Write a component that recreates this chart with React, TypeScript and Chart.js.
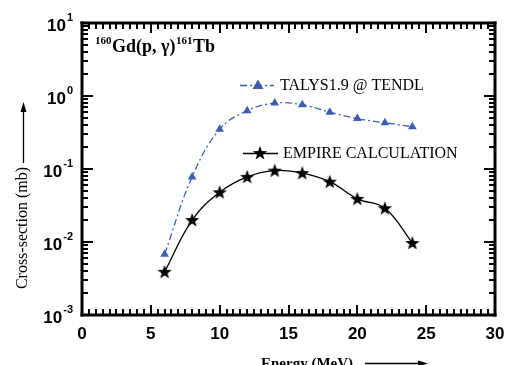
import React, { useEffect, useRef } from "react";
import { Chart, registerables } from "chart.js";

Chart.register(...registerables);

const energies = [6, 8, 10, 12, 14, 16, 18, 20, 22, 24];
const talysValues = [0.0068, 0.078, 0.35, 0.63, 0.8, 0.76, 0.6, 0.49, 0.43, 0.38];
const empireValues = [0.0039, 0.02, 0.048, 0.078, 0.095, 0.088, 0.067, 0.039, 0.029, 0.0097];
const xTicks = [0, 5, 10, 15, 20, 25, 30];
const yTickExps = [-3, -2, -1, 0, 1];
const talysLabel = "TALYS1.9 @ TENDL";
const empireLabel = "EMPIRE CALCULATION";
const xTitle = "Energy (MeV)";
const yTitle = "Cross-section (mb)";

const BLUE = "#3f5db3";

function makeStar(size: number, outer: number, inner: number) {
  const c = document.createElement("canvas");
  c.width = size;
  c.height = size;
  const g = c.getContext("2d")!;
  g.fillStyle = "#000";
  g.beginPath();
  for (let i = 0; i < 10; i++) {
    const r = i % 2 === 0 ? outer : inner;
    const a = -Math.PI / 2 + (i * Math.PI) / 5;
    const px = size / 2 + r * Math.cos(a);
    const py = size / 2 + 0.5 + r * Math.sin(a);
    if (i === 0) g.moveTo(px, py);
    else g.lineTo(px, py);
  }
  g.closePath();
  g.fill();
  return c;
}

export default function App() {
  const ref = useRef<HTMLCanvasElement>(null);
  useEffect(() => {
    const star = makeStar(18, 7.5, 3.1);
    const decor = {
      id: "decor",
      afterDraw(chart: any) {
        const ctx = chart.ctx as CanvasRenderingContext2D;
        const xs = chart.scales.x;
        const ys = chart.scales.y;
        const { left, right, top, bottom } = chart.chartArea;
        ctx.save();
        ctx.setLineDash([]);
        ctx.fillStyle = "#000000";
        ctx.strokeStyle = "#000000";
        // ticks
        for (let i = 0; i <= 60; i++) {
          const px = Math.round(xs.getPixelForValue(i * 0.5));
          const len = i % 10 === 0 ? 10 : 6;
          ctx.fillRect(px - 1, bottom - len, 2, len);
          ctx.fillRect(px - 1, top, 2, len);
        }
        for (let e = -3; e < 1; e++) {
          for (let m = 1; m <= 9; m++) {
            const py = Math.round(ys.getPixelForValue(m * Math.pow(10, e)));
            const len = m === 1 ? 11 : 6;
            ctx.fillRect(left, py - 1, len, 2);
            ctx.fillRect(right - len, py - 1, len, 2);
          }
        }
        // frame
        ctx.fillRect(left - 1.5, top - 1.5, 3, bottom - top + 3);
        ctx.fillRect(right - 1.5, top - 1.5, 3, bottom - top + 3);
        ctx.fillRect(left - 1.5, top - 1.5, right - left + 3, 3);
        ctx.fillRect(left - 1.5, bottom - 1.5, right - left + 3, 3);

        // x tick labels
        ctx.font = "bold 17px 'Liberation Sans', Arial, sans-serif";
        ctx.textAlign = "center";
        ctx.textBaseline = "middle";
        xTicks.forEach((t) => {
          ctx.fillText(String(t), xs.getPixelForValue(t), bottom + 19);
        });
        // y tick labels with superscripts
        yTickExps.forEach((e) => {
          const py = ys.getPixelForValue(Math.pow(10, e));
          ctx.font = "bold 17px 'Liberation Sans', Arial, sans-serif";
          const w1 = ctx.measureText("10").width;
          ctx.font = "bold 11px 'Liberation Sans', Arial, sans-serif";
          const sup = String(e);
          const w2 = ctx.measureText(sup).width;
          const x0 = left - 9 - (w1 + w2 + 1);
          ctx.textAlign = "left";
          ctx.font = "bold 17px 'Liberation Sans', Arial, sans-serif";
          ctx.fillText("10", x0, py + 3);
          ctx.font = "bold 11px 'Liberation Sans', Arial, sans-serif";
          ctx.fillText(sup, x0 + w1 + 1, py - 5);
        });

        // title inside
        let tx = 95;
        const ty = 52;
        ctx.textBaseline = "alphabetic";
        ctx.textAlign = "left";
        const parts: [string, boolean][] = [
          ["160", true],
          ["Gd(p, \u03b3)", false],
          ["161", true],
          ["Tb", false],
        ];
        parts.forEach(([s, sup]) => {
          ctx.font = sup
            ? "bold 11px 'Liberation Serif', 'Times New Roman', serif"
            : "bold 18px 'Liberation Serif', 'Times New Roman', serif";
          ctx.fillText(s, tx, sup ? ty - 8 : ty);
          tx += ctx.measureText(s).width + 0.5;
        });

        // legend: TALYS
        ctx.save();
        ctx.strokeStyle = BLUE;
        ctx.fillStyle = BLUE;
        ctx.lineWidth = 1.3;
        ctx.setLineDash([7, 3, 2, 3]);
        ctx.beginPath();
        ctx.moveTo(240, 85.5);
        ctx.lineTo(274, 85.5);
        ctx.stroke();
        ctx.setLineDash([]);
        ctx.beginPath();
        ctx.moveTo(258, 79.5);
        ctx.lineTo(263.5, 89);
        ctx.lineTo(252.5, 89);
        ctx.closePath();
        ctx.fill();
        ctx.restore();
        ctx.font = "16px 'Liberation Serif', 'Times New Roman', serif";
        ctx.textBaseline = "middle";
        ctx.fillText(talysLabel, 280, 86);

        // legend: EMPIRE
        ctx.lineWidth = 1.3;
        ctx.beginPath();
        ctx.moveTo(243, 153.5);
        ctx.lineTo(278, 153.5);
        ctx.stroke();
        ctx.drawImage(star, 260 - 9, 153 - 9);
        ctx.font = "16px 'Liberation Serif', 'Times New Roman', serif";
        ctx.fillText(empireLabel, 283, 154);

        // x title
        ctx.font = "bold 15px 'Liberation Serif', 'Times New Roman', serif";
        ctx.textBaseline = "alphabetic";
        ctx.fillText(xTitle, 261, 368);
        ctx.lineWidth = 1.3;
        ctx.beginPath();
        ctx.moveTo(365, 363.5);
        ctx.lineTo(420, 363.5);
        ctx.stroke();
        ctx.beginPath();
        ctx.moveTo(428, 363.5);
        ctx.lineTo(418, 360.5);
        ctx.lineTo(418, 366.5);
        ctx.closePath();
        ctx.fill();

        // y title
        ctx.save();
        ctx.translate(23, 228);
        ctx.rotate(-Math.PI / 2);
        ctx.font = "16px 'Liberation Serif', 'Times New Roman', serif";
        ctx.textAlign = "center";
        ctx.textBaseline = "middle";
        ctx.fillText(yTitle, 0, 0);
        ctx.restore();
        ctx.beginPath();
        ctx.moveTo(23.5, 163);
        ctx.lineTo(23.5, 110);
        ctx.stroke();
        ctx.beginPath();
        ctx.moveTo(23.5, 102);
        ctx.lineTo(20.5, 112);
        ctx.lineTo(26.5, 112);
        ctx.closePath();
        ctx.fill();

        ctx.restore();
      },
    };

    const chart = new Chart(ref.current!, {
      type: "line",
      data: {
        datasets: [
          {
            label: talysLabel,
            data: energies.map((x, i) => ({ x, y: talysValues[i] })),
            borderColor: BLUE,
            backgroundColor: BLUE,
            borderWidth: 1.3,
            borderDash: [7, 3, 2, 3],
            pointStyle: "triangle",
            pointRadius: 5,
            pointBorderWidth: 0,
            tension: 0.4,
            fill: false,
          },
          {
            label: empireLabel,
            data: energies.map((x, i) => ({ x, y: empireValues[i] })),
            borderColor: "#000",
            backgroundColor: "#000",
            borderWidth: 1.3,
            pointStyle: star as any,
            pointRadius: 8,
            tension: 0.4,
            fill: false,
          },
        ],
      },
      options: {
        animation: false,
        responsive: false,
        maintainAspectRatio: false,
        layout: { padding: { left: 82, right: 12, top: 23, bottom: 50 } },
        plugins: { legend: { display: false }, tooltip: { enabled: false } },
        scales: {
          x: { type: "linear", min: 0, max: 30, display: false },
          y: { type: "logarithmic", min: 0.001, max: 10, display: false },
        },
      },
      plugins: [decor],
    });
    return () => chart.destroy();
  }, []);

  return (
    <div style={{ position: "fixed", left: 0, top: 0, width: 507, height: 365, background: "#fff" }}>
      <canvas ref={ref} width={507} height={365} style={{ width: 507, height: 365 }} />
    </div>
  );
}
